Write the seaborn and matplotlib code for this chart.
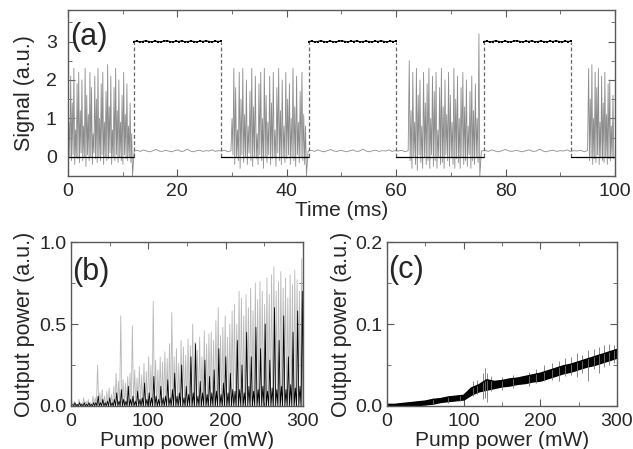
import numpy as np
import seaborn as sns
from matplotlib import pyplot as plt
from matplotlib.ticker import MultipleLocator

# (a) time trace: spike bursts while the pump reference is low
burst_windows = [(0.2, 11.8), (30.0, 43.6), (62.4, 75.3), (95.2, 99.8)]
b1_peaks = [0.9, 2.1, 1.4, 2.3, 0.7, 1.9, 2.2, 1.2, 2.0, 0.8, 2.3, 1.6, 1.1, 2.2, 1.8, 0.6, 2.1, 1.5, 2.3, 1.0,
            1.9, 2.2, 0.9, 1.7, 2.4, 1.3, 2.1, 0.7, 1.8, 2.3, 1.2, 2.0, 0.9, 1.6, 2.2, 1.1, 1.9, 0.8, 1.4, 0.6]
b1_troughs = [0.0, -0.1, 0.05, -0.2, 0.0, -0.05, -0.15, 0.1, -0.1, 0.0, -0.25, 0.05, -0.1, 0.0, -0.2, 0.1, -0.05,
              -0.15, 0.0, -0.1, 0.05, -0.2, 0.0, -0.1, -0.05, 0.1, -0.2, 0.0, -0.1, 0.05, -0.15, 0.0, -0.1, -0.2,
              0.05, -0.05, -0.1, 0.0, -0.15, -0.5]
b2_peaks = [1.0, 2.3, 1.8, 0.7, 2.2, 1.5, 2.3, 1.1, 2.0, 0.8, 1.7, 2.3, 1.3, 2.1, 0.6, 1.9, 2.2, 1.0, 2.3, 1.6, 0.9,
            2.1, 1.4, 2.2, 0.7, 1.8, 2.3, 1.2, 2.0, 0.8, 2.2, 1.5, 1.9, 1.0, 2.3, 1.3, 2.1, 0.9, 1.7, 2.2, 1.1, 0.8]
b2_troughs = [0.05, -0.2, 0.0, -0.1, -0.3, 0.05, -0.15, 0.0, -0.2, 0.1, -0.1, -0.25, 0.0, -0.05, -0.2, 0.05, -0.1,
              -0.3, 0.0, -0.15, 0.05, -0.2, -0.05, 0.0, -0.25, 0.1, -0.1, -0.2, 0.0, -0.15, -0.05, 0.05, -0.2, 0.0,
              -0.1, -0.25, 0.05, -0.15, 0.0, -0.1, -0.2, -0.5]
b3_peaks = [2.5, 1.2, 2.2, 0.9, 2.3, 1.6, 2.0, 0.8, 2.2, 1.4, 1.9, 2.3, 1.0, 2.1, 1.7, 2.2, 0.7, 1.8, 2.3, 1.3,
            2.0, 1.1, 2.2, 1.6, 0.9, 2.3, 1.5, 2.1, 1.0, 1.8, 2.2, 1.3, 2.0, 0.8, 1.7, 2.1, 1.2, 1.9, 1.0, 3.2]
b3_troughs = [-0.1, -0.3, 0.0, -0.2, -0.35, 0.05, -0.15, -0.3, 0.0, -0.2, -0.1, -0.3, 0.05, -0.25, -0.1, -0.3,
              0.0, -0.2, -0.15, -0.3, 0.05, -0.1, -0.25, 0.0, -0.2, -0.3, -0.05, -0.15, -0.3, 0.0, -0.2, -0.1,
              -0.25, 0.05, -0.3, -0.1, -0.2, 0.0, -0.15, -0.5]
b4_peaks = [2.3, 1.5, 2.4, 1.0, 2.2, 1.8, 2.3, 0.9, 2.1, 1.4, 2.2, 1.1, 1.9, 2.0, 0.8, 1.6]
b4_troughs = [-0.1, 0.0, -0.2, -0.05, -0.15, 0.05, -0.2, 0.0, -0.1, -0.15, 0.0, -0.2, -0.05, -0.1, 0.0, -0.05]
flat_level = [0.15, 0.17, 0.14, 0.18, 0.15, 0.13, 0.16, 0.19, 0.15, 0.14, 0.17, 0.15, 0.13, 0.16, 0.18, 0.14,
              0.15, 0.2, 0.15, 0.13, 0.16, 0.17, 0.14, 0.16, 0.15, 0.18, 0.14, 0.16, 0.15, 0.17, 0.13, 0.16]
ref_edges = [0, 12, 28, 44, 60, 76, 92, 100]
ref_levels = [0, 3, 0, 3, 0, 3, 0]
ref_wiggle = [0.0, 0.01, -0.01, 0.0, 0.02, 0.0, -0.01, 0.01, 0.0, -0.01, 0.01, 0.02, 0.0, -0.01,
              0.01, 0.0, 0.02, -0.01, 0.0, 0.01, 0.0, -0.01, 0.01, 0.0, 0.02, 0.0, -0.01, 0.01, 0.0, 0.01]

# (b) output power vs pump power, spiking regime
b_gray = [0.02, 0.03, 0.01, 0.04, 0.02, 0.05, 0.03, 0.04, 0.02, 0.06,
          0.05, 0.25, 0.08, 0.1, 0.06, 0.09, 0.11, 0.07, 0.12, 0.2,
          0.15, 0.55, 0.16, 0.14, 0.18, 0.2, 0.49, 0.22, 0.17, 0.24,
          0.19, 0.26, 0.21, 0.3, 0.25, 0.64, 0.28, 0.22, 0.3, 0.27,
          0.33, 0.29, 0.38, 0.57, 0.3, 0.35, 0.26, 0.4, 0.36, 0.31,
          0.41, 0.37, 0.5, 0.39, 0.34, 0.42, 0.3, 0.46, 0.38, 0.44,
          0.45, 0.4, 0.52, 0.6, 0.43, 0.48, 0.55, 0.42, 0.5, 0.58,
          0.62, 0.5, 0.7, 0.66, 0.55, 0.68, 0.6, 0.72, 0.58, 0.75,
          0.65, 0.76, 0.7, 0.62, 0.78, 0.68, 0.8, 0.85, 0.7, 0.76,
          0.82, 0.72, 0.78, 0.66, 0.8, 0.74, 0.83, 0.77, 0.7, 0.9]
b_black = [0.01, 0.02, 0.01, 0.02, 0.01, 0.02, 0.01, 0.02, 0.01, 0.02,
           0.02, 0.06, 0.02, 0.04, 0.02, 0.03, 0.05, 0.02, 0.04, 0.08,
           0.03, 0.1, 0.04, 0.03, 0.12, 0.04, 0.06, 0.03, 0.09, 0.04,
           0.05, 0.14, 0.04, 0.08, 0.05, 0.18, 0.06, 0.04, 0.12, 0.05,
           0.06, 0.16, 0.05, 0.1, 0.2, 0.06, 0.08, 0.25, 0.05, 0.12,
           0.07, 0.3, 0.08, 0.38, 0.06, 0.15, 0.08, 0.28, 0.07, 0.18,
           0.08, 0.22, 0.09, 0.35, 0.07, 0.14, 0.3, 0.08, 0.2, 0.1,
           0.09, 0.4, 0.1, 0.25, 0.08, 0.45, 0.12, 0.3, 0.09, 0.48,
           0.1, 0.35, 0.12, 0.5, 0.09, 0.28, 0.11, 0.6, 0.1, 0.4,
           0.12, 0.55, 0.1, 0.3, 0.13, 0.45, 0.11, 0.58, 0.12, 0.7]

# (c) output power vs pump power, cw regime
c_pump = [0, 10, 20, 30, 40, 50, 60, 70, 80, 90, 100, 110, 120, 130, 140, 150,
          160, 170, 180, 190, 200, 210, 220, 230, 240, 250, 260, 270, 280, 290, 300]
c_lower = [0.0, 0.0, 0.0, 0.001, 0.001, 0.002, 0.003, 0.005, 0.006, 0.007, 0.008, 0.014, 0.018, 0.02, 0.022,
           0.024, 0.025, 0.027, 0.028, 0.03, 0.031, 0.034, 0.037, 0.04, 0.042, 0.045, 0.048, 0.05, 0.053,
           0.056, 0.059]
c_upper = [0.002, 0.002, 0.003, 0.004, 0.005, 0.006, 0.008, 0.009, 0.011, 0.012, 0.013, 0.022, 0.026, 0.032,
           0.03, 0.031, 0.033, 0.034, 0.036, 0.038, 0.04, 0.043, 0.046, 0.049, 0.051, 0.054, 0.057, 0.06,
           0.063, 0.066, 0.069]
spike_pump = [60, 80, 95, 112, 118, 125, 128, 131, 135, 150, 165, 185, 195, 205, 215,
              225, 232, 240, 248, 255, 262, 270, 276, 283, 290, 296]
spike_top = [0.01, 0.012, 0.014, 0.03, 0.032, 0.04, 0.046, 0.04, 0.036, 0.035, 0.038, 0.042, 0.045,
             0.05, 0.052, 0.055, 0.058, 0.06, 0.065, 0.062, 0.068, 0.07, 0.072, 0.074, 0.076, 0.075]
spike_bottom = [0.002, 0.004, 0.006, 0.012, 0.015, 0.008, 0.01, 0.005, 0.018, 0.02, 0.022, 0.025, 0.028,
                0.03, 0.032, 0.03, 0.036, 0.038, 0.035, 0.04, 0.03, 0.045, 0.04, 0.048, 0.05, 0.052]

sns.set_style("ticks", {"xtick.direction": "in", "ytick.direction": "in"})
plt.rcParams["font.family"] = ["Liberation Sans", "DejaVu Sans"]
plt.rcParams["axes.edgecolor"] = "0.35"
plt.rcParams["axes.linewidth"] = 1.0

fig = plt.figure(figsize=(6.33, 4.49), dpi=100)
ax_a = fig.add_axes([0.1074, 0.608, 0.864, 0.3697])
ax_b = fig.add_axes([0.112, 0.0958, 0.3665, 0.365])
ax_c = fig.add_axes([0.6114, 0.0958, 0.3633, 0.365])


def interleave(a, b):
    return np.column_stack([a, b]).ravel()


# build the gray trace from bursts and flat stretches
bursts = [(b1_peaks, b1_troughs), (b2_peaks, b2_troughs), (b3_peaks, b3_troughs), (b4_peaks, b4_troughs)]
t_parts, s_parts = [], []
for k, ((start, stop), (pk, tr)) in enumerate(zip(burst_windows, bursts)):
    vals = interleave(pk, tr)
    t_parts.append(np.linspace(start, stop, len(vals)))
    s_parts.append(vals)
    if k + 1 < len(burst_windows):
        nxt = burst_windows[k + 1][0]
        t_parts.append(np.linspace(stop + 0.3, nxt - 0.2, len(flat_level)))
        s_parts.append(np.array(flat_level))
t_sig = np.concatenate(t_parts)
s_sig = np.concatenate(s_parts)
sns.lineplot(x=t_sig, y=s_sig, estimator=None, sort=False, color="0.55", lw=0.6, ax=ax_a)

# black reference trace
for i, lev in enumerate(ref_levels):
    tt = np.linspace(ref_edges[i], ref_edges[i + 1], len(ref_wiggle))
    yy = np.array(ref_wiggle) + lev if lev > 0 else np.full(len(tt), lev)
    sns.lineplot(x=tt, y=yy, estimator=None, sort=False, color="black", lw=0.9,
                 marker="s" if lev > 0 else None, markersize=1.5, markeredgewidth=0, ax=ax_a)
    if lev > 0:
        for e in (ref_edges[i], ref_edges[i + 1]):
            ax_a.plot([e, e], [0, lev], color="0.4", ls=(0, (3, 2)), lw=0.9)
ax_a.set_xlim(0, 100)
ax_a.set_ylim(-0.5, 3.82)
ax_a.xaxis.set_major_locator(MultipleLocator(20))
ax_a.xaxis.set_minor_locator(MultipleLocator(10))
ax_a.yaxis.set_major_locator(MultipleLocator(1))
ax_a.yaxis.set_minor_locator(MultipleLocator(0.5))
ax_a.set_xlabel("Time (ms)", fontsize=15, labelpad=1)
ax_a.set_ylabel("Signal (a.u.)", fontsize=15.5, labelpad=8)
ax_a.text(0.004, 0.93, "(a)", transform=ax_a.transAxes, fontsize=22, va="top")

# (b)
nb = len(b_gray)
pb = np.linspace(1.5, 298.5, nb)
step = pb[1] - pb[0]
xb = interleave(pb, pb + step / 2)
sns.lineplot(x=xb, y=interleave(b_gray, np.zeros(nb)), estimator=None, sort=False,
             color="0.72", lw=0.6, ax=ax_b)
sns.lineplot(x=xb + step / 4, y=interleave(b_black, np.zeros(nb)), estimator=None, sort=False,
             color="black", lw=0.6, ax=ax_b)
ax_b.set_xlim(0, 300)
ax_b.set_ylim(0, 1.0)
ax_b.xaxis.set_major_locator(MultipleLocator(100))
ax_b.xaxis.set_minor_locator(MultipleLocator(50))
ax_b.yaxis.set_major_locator(MultipleLocator(0.5))
ax_b.yaxis.set_minor_locator(MultipleLocator(0.25))
ax_b.set_xlabel("Pump power (mW)", fontsize=15, labelpad=1)
ax_b.set_ylabel("Output power (a.u.)", fontsize=15.5, labelpad=3)
ax_b.text(0.004, 0.91, "(b)", transform=ax_b.transAxes, fontsize=22, va="top")

# (c)
ax_c.vlines(spike_pump, spike_bottom, spike_top, color="0.45", lw=0.6)
ax_c.fill_between(c_pump, c_lower, c_upper, color="black", lw=1.0)
sns.lineplot(x=c_pump, y=c_upper, estimator=None, color="black", lw=1.0, ax=ax_c)
ax_c.set_xlim(0, 300)
ax_c.set_ylim(0, 0.2)
ax_c.xaxis.set_major_locator(MultipleLocator(100))
ax_c.xaxis.set_minor_locator(MultipleLocator(50))
ax_c.yaxis.set_major_locator(MultipleLocator(0.1))
ax_c.yaxis.set_minor_locator(MultipleLocator(0.05))
ax_c.set_xlabel("Pump power (mW)", fontsize=15, labelpad=1)
ax_c.set_ylabel("Output power (a.u.)", fontsize=15.5, labelpad=3)
ax_c.text(0.004, 0.92, "(c)", transform=ax_c.transAxes, fontsize=22, va="top")

for ax in (ax_a, ax_b, ax_c):
    ax.tick_params(which="both", top=True, right=True, direction="in", color="0.35")
    ax.tick_params(which="major", length=5, labelsize=14)
    ax.tick_params(which="minor", length=3)
    for s in ax.spines.values():
        s.set_visible(True)
ax_a.tick_params(axis="y", pad=8)
ax_a.tick_params(axis="x", pad=5)
for ax in (ax_b, ax_c):
    ax.tick_params(axis="y", pad=3)
    ax.tick_params(axis="x", pad=5)

fig.savefig("out.png", dpi=100)
